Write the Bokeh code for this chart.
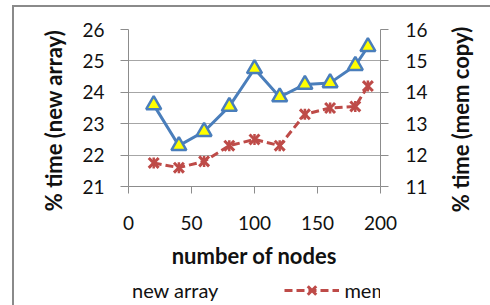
import math
from bokeh.plotting import figure
from bokeh.layouts import row, column
from bokeh.models import Range1d, LinearAxis, FixedTicker, Legend, LegendItem, Label
from bokeh.embed import file_html
from bokeh.resources import INLINE

nodes = [20, 40, 60, 80, 100, 120, 140, 160, 180, 190]
new_array = [23.6, 22.3, 22.75, 23.55, 24.75, 23.85, 24.25, 24.3, 24.85, 25.45]
mem_copy = [11.75, 11.6, 11.8, 12.3, 12.5, 12.3, 13.3, 13.5, 13.55, 14.2]
x_ticks = [0, 50, 100, 150, 200]
left_ticks = [21, 22, 23, 24, 25, 26]
right_ticks = [11, 12, 13, 14, 15, 16]

FONT = "Lato"
BLUE = "#4A7EBB"
RED = "#BE4B48"
GRAY = "#8C8C8C"
INK = "#111111"

# ---------------- main plot ----------------
p = figure(frame_width=252, frame_height=157, x_range=Range1d(0, 200), y_range=Range1d(21, 26),
           output_backend="svg", toolbar_location=None,
           min_border_left=58, min_border_right=64, min_border_top=22, min_border_bottom=86)
p.outline_line_color = None
p.extra_y_ranges = {"mem": Range1d(11, 16)}
p.xgrid.visible = False
p.ygrid.ticker = FixedTicker(ticks=left_ticks)
p.ygrid.grid_line_color = "#A6A6A6"

def style_axis(ax):
    ax.axis_line_color = GRAY
    ax.major_tick_line_color = GRAY
    ax.minor_tick_line_color = None
    ax.major_tick_in = 0
    ax.major_tick_out = 8
    ax.major_label_text_font = FONT
    ax.major_label_text_font_size = "19px"
    ax.major_label_text_color = INK

xa = p.xaxis[0]
xa.ticker = FixedTicker(ticks=x_ticks)
style_axis(xa)
xa.major_tick_out = 7
xa.major_label_standoff = 22
xa.axis_label = "number of nodes"
xa.axis_label_text_font = FONT
xa.axis_label_text_font_style = "bold"
xa.axis_label_text_font_size = "22px"
xa.axis_label_text_color = INK
xa.axis_label_standoff = 9

ya = p.yaxis[0]
ya.ticker = FixedTicker(ticks=left_ticks)
style_axis(ya)
ya.major_label_standoff = 16

ra = LinearAxis(y_range_name="mem", ticker=FixedTicker(ticks=right_ticks))
style_axis(ra)
ra.major_label_standoff = 17
p.add_layout(ra, "right")

l1 = p.line(nodes, new_array, line_color=BLUE, line_width=3)
s1 = p.scatter(nodes, new_array, marker="triangle", size=15, line_color=BLUE,
               line_width=2.5, fill_color="#FFFF00")
l2 = p.line(nodes, mem_copy, y_range_name="mem", line_color=RED, line_width=3,
            line_dash="8 4")
s2 = p.scatter(nodes, mem_copy, y_range_name="mem", marker="x", size=14,
               line_color=RED, line_width=3)
s3 = p.scatter(nodes, mem_copy, y_range_name="mem", marker="dash", size=11,
               angle=math.pi / 2, line_color=RED, line_width=2.5)

# ---------------- helper canvases ----------------
def blank(w, h):
    f = figure(width=w, height=h, x_range=Range1d(0, w), y_range=Range1d(0, h),
               x_axis_type=None, y_axis_type=None, output_backend="svg",
               toolbar_location=None, min_border=0)
    f.outline_line_color = None
    f.grid.visible = False
    return f

# left axis title
p0 = blank(56, 298)
p0.add_layout(Label(x=39, y=185, text="% time (new array)", angle=math.pi / 2,
                    text_align="center", text_baseline="middle", text_font=FONT,
                    text_font_style="bold", text_font_size="22px", text_color=INK))

# right axis title
p3 = blank(46, 298)
p3.add_layout(Label(x=16, y=186, text="% time (mem copy)", angle=math.pi / 2,
                    text_align="center", text_baseline="middle", text_font=FONT,
                    text_font_style="bold", text_font_size="22px", text_color=INK))

# legend strip (hidden proxy renderers carry the legend swatches)
p2 = blank(374, 33)
k1 = p2.line(nodes, new_array, line_color=BLUE, line_width=3, visible=False)
k2 = p2.scatter(nodes, new_array, marker="triangle", line_color=BLUE, line_width=2.5,
                fill_color="#FFFF00", visible=False)
k3 = p2.line(nodes, mem_copy, line_color=RED, line_width=3, line_dash="8 4", visible=False)
k4 = p2.scatter(nodes, mem_copy, marker="x", line_color=RED, line_width=3, visible=False)
legend = Legend(items=[LegendItem(label="new array", renderers=[k1, k2]),
                       LegendItem(label="mem copy", renderers=[k3, k4])],
                orientation="horizontal", location=(-56, 0),
                glyph_width=55, glyph_height=30, label_standoff=5, spacing=66,
                label_text_font=FONT, label_text_font_size="20px",
                label_text_color=INK,
                inactive_fill_alpha=0,
                border_line_color=None, background_fill_alpha=0,
                padding=0, margin=0)
p2.add_layout(legend, "center")

layout = row(p0, column(p, p2, spacing=0), p3, spacing=0,
             styles={"border-top": "2px solid #8a8a8a", "border-left": "2px solid #8a8a8a",
                     "margin-top": "5px", "margin-left": "12px"})

open("out.html", "w").write(file_html(layout, INLINE))
